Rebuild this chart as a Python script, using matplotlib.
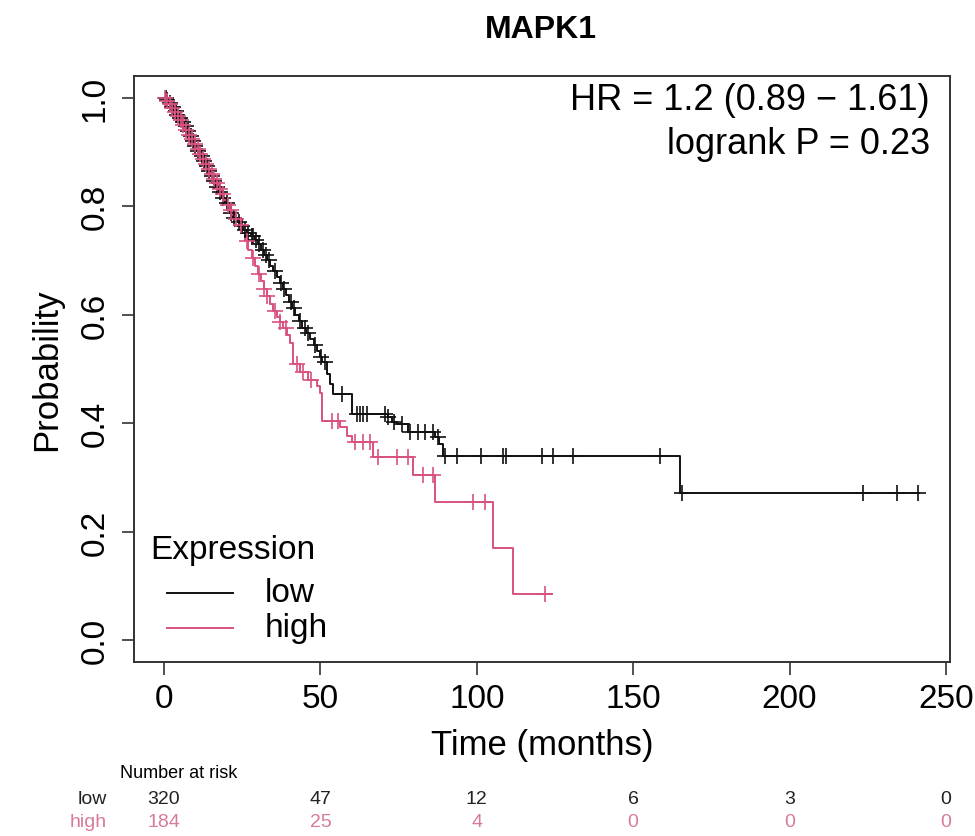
import numpy as np
import matplotlib
matplotlib.use("Agg")
import matplotlib.pyplot as plt
from matplotlib.lines import Line2D

plt.rcParams['font.family'] = ['Liberation Sans', 'DejaVu Sans']

# ---------------- data ----------------
title = "MAPK1"
groups = ["low", "high"]
legend_title = "Expression"

low_time = [0, 0.8, 1.6, 2.4, 3.2, 4.0, 4.8, 5.6, 6.5, 7.3, 8.1, 9.0, 9.8, 10.6, 11.5,
            12.3, 13.2, 14.0, 14.9, 15.8, 16.7, 17.6, 18.5, 19.4, 20.3, 21.2, 22.2, 23.2,
            24.2, 25.3, 26.5, 27.8, 29.0, 30.0, 31.0, 32.0, 33.0, 34.0, 35.0, 36.0, 37.0,
            38.0, 39.0, 40.0, 41.0, 42.0, 43.0, 44.2, 45.5, 46.7, 47.8, 49.0, 50.0, 50.5,
            52.0, 53.0, 54.0, 60.0, 71.6, 72.9, 74.5, 78.0, 86.6, 88.0, 89.2, 165.0]
low_surv = [1.0, 0.995, 0.99, 0.983, 0.976, 0.969, 0.962, 0.955, 0.947, 0.938, 0.929, 0.92,
            0.911, 0.902, 0.893, 0.884, 0.874, 0.865, 0.855, 0.846, 0.836, 0.826, 0.816,
            0.806, 0.797, 0.788, 0.779, 0.771, 0.763, 0.756, 0.75, 0.745, 0.738, 0.73, 0.72,
            0.71, 0.70, 0.69, 0.68, 0.67, 0.659, 0.648, 0.636, 0.624, 0.612, 0.6,
            0.588, 0.576, 0.566, 0.556, 0.545, 0.534, 0.522, 0.513, 0.49, 0.472, 0.454,
            0.417, 0.411, 0.402, 0.398, 0.384, 0.375, 0.362, 0.34, 0.271]
low_end = 241.5
low_censor = [0.5, 1.0, 1.8, 2.5, 3.0, 3.8, 4.3, 5.0, 6.0, 7.0, 7.8, 8.5, 9.3, 10.0, 11.0,
              12.0, 12.8, 13.6, 14.5, 15.2, 16.0, 17.0, 18.0, 19.0, 20.0, 21.5, 22.5, 24.0,
              25.0, 26.0, 27.0, 28.0, 28.5, 29.5, 30.5, 31.5, 32.5, 33.5, 35.5, 37.5, 38.5,
              40.5, 41.5, 43.5, 45.0, 46.0, 48.3, 50.3, 51.5, 57.0, 61.7, 62.7, 63.6, 64.9,
              70.7, 71.6, 73.5, 76.0, 78.6, 81.2, 83.4, 86.0, 87.5, 89.8, 93.7, 101.5, 108.4,
              109.4, 121.0, 124.4, 130.8, 158.5, 165.5, 223.5, 234.3, 241.0]

high_time = [0, 0.7, 1.5, 2.3, 3.1, 4.0, 4.9, 5.8, 6.7, 7.6, 8.5, 9.4, 10.3, 11.2, 12.1,
             13.0, 13.9, 14.8, 15.7, 16.6, 17.5, 18.4, 19.3, 20.2, 21.1, 22.0, 23.0, 24.0,
             25.0, 26.0, 27.0, 28.0, 29.0, 30.0, 31.0, 32.0, 33.0, 34.0, 35.0, 36.0, 37.0,
             38.0, 39.3, 40.3, 41.2, 43.5, 46.0, 48.9, 49.8, 50.5, 56.3, 58.5, 60.0, 66.8,
             79.6, 86.6, 105.2, 111.6]
high_surv = [1.0, 0.994, 0.988, 0.981, 0.974, 0.966, 0.958, 0.95, 0.941, 0.932, 0.923,
             0.914, 0.905, 0.896, 0.887, 0.878, 0.869, 0.86, 0.851, 0.842, 0.832, 0.822,
             0.812, 0.802, 0.793, 0.784, 0.776, 0.765, 0.75, 0.735, 0.72, 0.705, 0.69,
             0.675, 0.662, 0.648, 0.634, 0.62, 0.607, 0.596, 0.586, 0.575, 0.562, 0.548,
             0.51, 0.494, 0.48, 0.469, 0.455, 0.404, 0.393, 0.377, 0.365, 0.338, 0.304,
             0.255, 0.17, 0.085]
high_end = 124.0
high_censor = [0.3, 1.0, 1.8, 2.6, 3.5, 4.4, 5.3, 6.2, 7.0, 8.0, 9.0, 10.0, 10.8, 11.6,
               12.5, 13.4, 14.3, 15.2, 16.0, 17.0, 18.0, 19.0, 20.5, 21.5, 23.0, 24.5, 26.5,
               28.5, 30.5, 32.0, 33.0, 35.5, 37.0, 39.0, 42.5, 44.5, 47.0, 53.7, 55.6, 61.0,
               63.6, 65.9, 68.4, 74.5, 78.0, 82.8, 86.0, 98.8, 102.6, 121.8]

risk_times = [0, 50, 100, 150, 200, 250]
risk_low = [320, 47, 12, 6, 3, 0]
risk_high = [184, 25, 4, 0, 0, 0]

hr_text = "HR = 1.2 (0.89 \u2212 1.61)"
p_text = "logrank P = 0.23"

# ---------------- style ----------------
W, H = 975, 837
col_low = "#111111"
col_high = "#D9527F"
col_high_txt = "#D77A9C"

fig = plt.figure(figsize=(W / 100, H / 100), dpi=100)
L, R, T, B = 134, 950, 77, 663
ax = fig.add_axes([L / W, 1 - B / H, (R - L) / W, (B - T) / H])


def draw_curve(t, s, end, cens, color):
    tt = list(t) + [end]
    ss = list(s) + [s[-1]]
    ax.step(tt, ss, where="post", color=color, lw=1.4, zorder=3)
    t_arr = np.asarray(t)
    s_arr = np.asarray(s)
    idx = np.searchsorted(t_arr, np.asarray(cens), side="right") - 1
    ax.plot(cens, s_arr[idx], ls="none", marker="+", ms=11, mew=1.2,
            color=color, zorder=4)


draw_curve(low_time, low_surv, low_end, low_censor, col_low)
draw_curve(high_time, high_surv, high_end, high_censor, col_high)

ax.set_xlim(-9.6, 251.3)
ax.set_ylim(-0.04, 1.04)
ax.set_xticks(risk_times)
ax.set_yticks([0.0, 0.2, 0.4, 0.6, 0.8, 1.0])
ax.set_yticklabels(["0.0", "0.2", "0.4", "0.6", "0.8", "1.0"], rotation=90, va="center")
ax.tick_params(axis="both", labelsize=24, length=9, width=1.2, color="#333333",
               direction="out")
ax.tick_params(axis="x", pad=6)
ax.tick_params(axis="y", pad=8)
for sp in ax.spines.values():
    sp.set_color("#333333")
    sp.set_linewidth(1.4)

ax.set_xlabel("Time (months)", fontsize=25, labelpad=10)
ax.set_ylabel("Probability", fontsize=25, labelpad=12)

fig.text(541 / W, 1 - 30 / H, title, fontsize=23, fontweight="bold",
         ha="center", va="center")

fig.text(930 / W, 1 - 101 / H, hr_text, ha="right", va="center", fontsize=26)
fig.text(930 / W, 1 - 145 / H, p_text, ha="right", va="center", fontsize=26)

# legend (drawn manually in axes fraction)
def fx(px):
    return (px - L) / (R - L)


def fy(py):
    return (B - py) / (B - T)


ax.text(fx(150), fy(550), legend_title, transform=ax.transAxes, fontsize=24,
        ha="left", va="center")
for name, color, py in zip(groups, [col_low, col_high], [594, 629]):
    ax.add_line(Line2D([fx(167), fx(233)], [fy(py), fy(py)], transform=ax.transAxes,
                       color=color, lw=1.4))
    ax.text(fx(265), fy(py), name, transform=ax.transAxes, fontsize=24,
            ha="left", va="center")

# number at risk table
fig.text(120 / W, 1 - 774 / H, "Number at risk", fontsize=13, ha="left", va="center")
fig.text(107 / W, 1 - 800 / H, "low", fontsize=14, ha="right", va="center", color="#222222")
fig.text(107 / W, 1 - 823 / H, "high", fontsize=14, ha="right", va="center", color=col_high_txt)
for t, nl, nh in zip(risk_times, risk_low, risk_high):
    xf = ax.transData.transform((t, 0))[0] / W
    fig.text(xf, 1 - 800 / H, str(nl), fontsize=14, ha="center", va="center", color="#222222")
    fig.text(xf, 1 - 823 / H, str(nh), fontsize=14, ha="center", va="center", color=col_high_txt)

fig.savefig("out.png", dpi=100)
